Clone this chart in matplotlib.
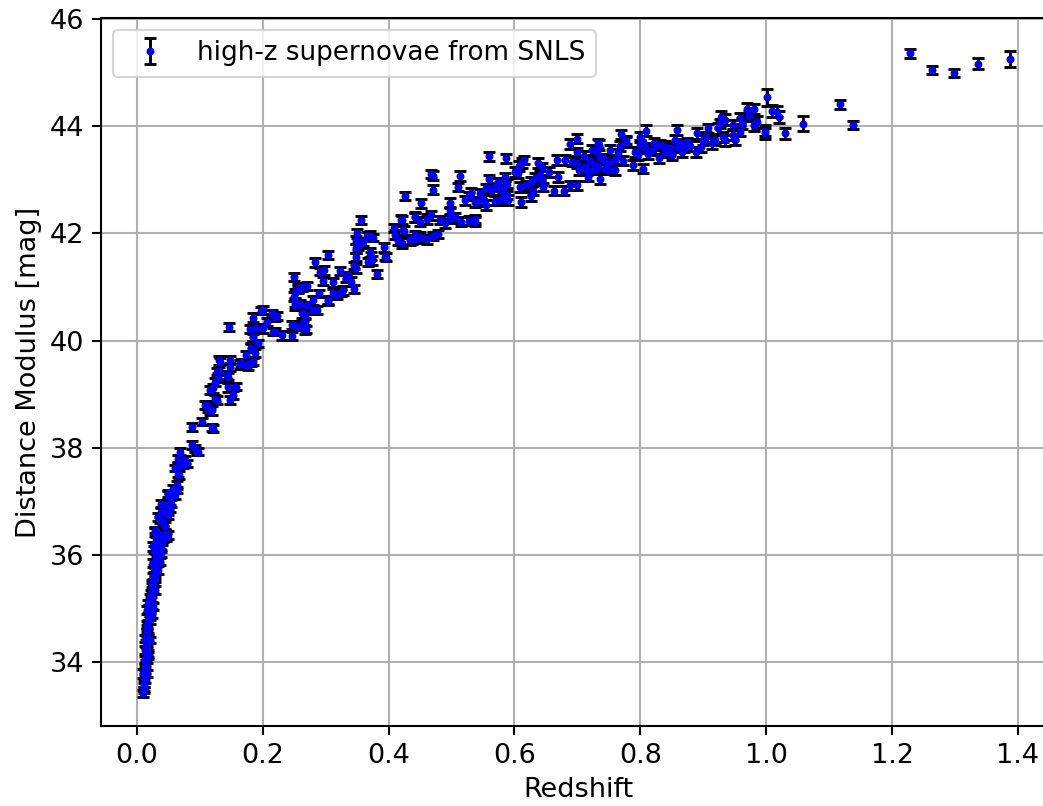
import matplotlib
matplotlib.use("Agg")
import matplotlib.pyplot as plt
import numpy as np

# ---- data (redshift, distance modulus, error) ----
z_low = [0.0095, 0.0116, 0.012, 0.0127, 0.010, 0.0154, 0.0127, 0.0146, 0.0127, 0.0154,
         0.018, 0.018, 0.0127, 0.0165, 0.0154, 0.0146, 0.0207, 0.0127, 0.018, 0.018,
         0.0154, 0.0165, 0.0207, 0.0207, 0.0154, 0.0234, 0.018, 0.026, 0.0207, 0.0234,
         0.026, 0.0286, 0.0234, 0.026, 0.026, 0.0286, 0.031, 0.034, 0.0286, 0.026,
         0.034, 0.036, 0.039, 0.034, 0.026, 0.031, 0.0366, 0.042, 0.047, 0.0366,
         0.050, 0.0286, 0.0286, 0.034, 0.0366, 0.042, 0.050, 0.039, 0.050, 0.052,
         0.047, 0.039, 0.055, 0.050, 0.052, 0.060, 0.050, 0.058, 0.063, 0.063,
         0.067, 0.066, 0.060, 0.066, 0.074, 0.079, 0.066, 0.068, 0.076, 0.087,
         0.092, 0.097, 0.095, 0.087, 0.104, 0.121, 0.120,
         0.030, 0.032, 0.028, 0.033, 0.035, 0.030, 0.031, 0.027, 0.029, 0.024,
         0.022, 0.019, 0.017, 0.016, 0.014, 0.013, 0.011,
         0.044, 0.040, 0.036, 0.045, 0.038]
mu_low = [33.42, 33.48, 33.54, 33.67, 33.79, 33.79, 33.92, 33.92, 34.04, 34.04,
          34.13, 34.16, 34.23, 34.22, 34.32, 34.35, 34.41, 34.44, 34.44, 34.63,
          34.63, 34.70, 34.79, 34.85, 34.97, 34.91, 35.10, 35.04, 35.22, 35.20,
          35.35, 35.35, 35.47, 35.50, 35.60, 35.62, 35.72, 35.72, 35.81, 35.85,
          35.91, 35.88, 36.03, 36.09, 36.16, 36.28, 36.28, 36.31, 36.34, 36.37,
          36.37, 36.43, 36.47, 36.71, 36.65, 36.62, 36.75, 36.81, 36.81, 36.87,
          36.93, 36.96, 36.96, 37.12, 37.09, 37.12, 37.15, 37.24, 37.21, 37.31,
          37.49, 37.52, 37.62, 37.65, 37.68, 37.71, 37.80, 37.93, 37.77, 38.05,
          37.99, 37.93, 37.93, 38.39, 38.49, 38.36, 38.38,
          35.95, 36.05, 36.10, 36.15, 36.22, 36.00, 35.84, 35.75, 35.55, 35.40,
          35.28, 35.00, 34.85, 34.55, 34.10, 33.85, 33.60,
          36.40, 36.25, 36.18, 36.55, 36.12]
err_low = [0.07, 0.06, 0.07, 0.06, 0.08, 0.07, 0.06, 0.07, 0.08, 0.06,
           0.07, 0.06, 0.07, 0.08, 0.06, 0.07, 0.06, 0.07, 0.06, 0.08,
           0.07, 0.06, 0.07, 0.06, 0.07, 0.08, 0.06, 0.07, 0.06, 0.07,
           0.06, 0.08, 0.07, 0.06, 0.07, 0.06, 0.07, 0.08, 0.06, 0.07,
           0.06, 0.07, 0.06, 0.07, 0.08, 0.06, 0.07, 0.06, 0.07, 0.06,
           0.08, 0.07, 0.06, 0.07, 0.06, 0.07, 0.08, 0.06, 0.07, 0.06,
           0.07, 0.06, 0.07, 0.08, 0.06, 0.07, 0.06, 0.07, 0.06, 0.07,
           0.08, 0.07, 0.06, 0.07, 0.06, 0.07, 0.06, 0.07, 0.08, 0.07,
           0.06, 0.07, 0.06, 0.07, 0.07, 0.06, 0.07,
           0.06, 0.07, 0.06, 0.07, 0.06, 0.07, 0.06, 0.07, 0.06, 0.07,
           0.06, 0.07, 0.06, 0.07, 0.06, 0.07, 0.06,
           0.07, 0.06, 0.07, 0.06, 0.07]

z_mid = [0.108, 0.111, 0.113, 0.116, 0.119, 0.124, 0.127, 0.148, 0.153, 0.145,
         0.156, 0.157, 0.121, 0.116, 0.124, 0.129, 0.127, 0.145, 0.143, 0.148,
         0.148, 0.131, 0.132, 0.131, 0.164, 0.166, 0.174, 0.177, 0.185, 0.182,
         0.173, 0.188, 0.182, 0.181, 0.193, 0.185, 0.185, 0.147, 0.180, 0.201,
         0.217, 0.220, 0.230, 0.246, 0.206, 0.219, 0.214, 0.198, 0.185, 0.190,
         0.200, 0.222]
mu_mid = [38.80, 38.80, 38.74, 38.68, 38.70, 38.92, 38.89, 38.89, 38.99, 39.13,
          39.14, 39.14, 39.11, 39.08, 39.23, 39.31, 39.42, 39.33, 39.36, 39.51,
          39.64, 39.63, 39.61, 39.43, 39.56, 39.58, 39.54, 39.54, 39.61, 39.59,
          39.73, 39.77, 39.87, 39.87, 39.95, 40.06, 40.07, 40.25, 40.22, 40.23,
          40.17, 40.17, 40.10, 40.09, 40.35, 40.45, 40.51, 40.56, 40.43, 40.23,
          40.57, 40.46]
err_mid = [0.07, 0.08, 0.07, 0.07, 0.08, 0.07, 0.08, 0.07, 0.07, 0.08,
           0.07, 0.07, 0.08, 0.07, 0.07, 0.08, 0.07, 0.07, 0.08, 0.07,
           0.07, 0.08, 0.07, 0.07, 0.08, 0.07, 0.07, 0.08, 0.07, 0.07,
           0.08, 0.07, 0.07, 0.08, 0.07, 0.07, 0.08, 0.07, 0.07, 0.08,
           0.07, 0.07, 0.08, 0.07, 0.07, 0.08, 0.07, 0.07, 0.08, 0.07,
           0.07, 0.08]

z_int = [0.249, 0.264, 0.262, 0.251, 0.270, 0.280, 0.267, 0.268, 0.249, 0.252,
         0.256, 0.262, 0.270, 0.251, 0.259, 0.264, 0.267, 0.267, 0.246, 0.255,
         0.286, 0.280, 0.290, 0.304, 0.312, 0.318, 0.311, 0.295, 0.291, 0.297,
         0.283, 0.303, 0.250, 0.256, 0.323, 0.333, 0.328, 0.336, 0.341, 0.349,
         0.345, 0.349, 0.348, 0.352, 0.355, 0.350, 0.349, 0.370, 0.372, 0.368,
         0.373, 0.370, 0.381, 0.356, 0.393, 0.395, 0.396, 0.303, 0.325, 0.345,
         0.365, 0.375, 0.360]
mu_int = [40.29, 40.32, 40.51, 40.66, 40.66, 40.57, 40.21, 40.21, 40.82, 40.88,
          40.95, 41.00, 41.02, 40.70, 40.68, 40.51, 40.35, 40.48, 40.29, 40.26,
          40.57, 40.75, 40.88, 40.76, 40.88, 40.85, 41.09, 41.11, 41.29, 41.31,
          41.46, 41.60, 41.19, 40.98, 41.30, 41.17, 40.94, 41.22, 41.10, 41.35,
          41.40, 41.56, 41.72, 41.76, 41.80, 42.00, 41.88, 41.96, 41.58, 41.47,
          41.50, 41.65, 41.24, 42.25, 41.74, 41.57, 41.56, 40.74, 40.90, 40.96,
          41.95, 41.92, 41.84]
err_int = [0.08, 0.07, 0.08, 0.08, 0.07, 0.08, 0.08, 0.07, 0.08, 0.08,
           0.07, 0.08, 0.08, 0.07, 0.08, 0.08, 0.07, 0.08, 0.08, 0.07,
           0.08, 0.08, 0.07, 0.08, 0.08, 0.07, 0.08, 0.08, 0.07, 0.08,
           0.08, 0.07, 0.08, 0.08, 0.07, 0.08, 0.08, 0.07, 0.08, 0.08,
           0.07, 0.08, 0.08, 0.07, 0.08, 0.08, 0.07, 0.08, 0.08, 0.07,
           0.08, 0.08, 0.07, 0.08, 0.08, 0.07, 0.08, 0.08, 0.07, 0.08,
           0.08, 0.07, 0.08]

z_far = [0.408, 0.424, 0.410, 0.415, 0.419, 0.437, 0.442, 0.434, 0.445, 0.426,
         0.451, 0.421, 0.423, 0.421, 0.442, 0.450, 0.461, 0.471, 0.479, 0.442,
         0.450, 0.468, 0.461, 0.481, 0.490, 0.497, 0.500, 0.506, 0.515, 0.527,
         0.537, 0.498, 0.498, 0.468, 0.470, 0.470, 0.511, 0.513, 0.521, 0.531,
         0.537, 0.542, 0.537, 0.551, 0.555, 0.558, 0.564, 0.569, 0.574, 0.580,
         0.585, 0.588, 0.555, 0.560, 0.569, 0.577, 0.582, 0.588, 0.590, 0.585,
         0.560, 0.587, 0.545, 0.528]
mu_far = [42.10, 42.05, 41.98, 41.86, 42.26, 41.89, 42.30, 41.88, 41.90, 42.70,
          42.56, 42.25, 42.06, 41.82, 41.97, 41.94, 41.89, 41.95, 41.99, 42.31,
          42.22, 42.34, 42.27, 42.25, 42.19, 42.28, 42.28, 42.31, 42.22, 42.24,
          42.22, 42.57, 42.42, 43.11, 43.08, 42.82, 42.87, 43.07, 42.62, 42.76,
          42.59, 42.60, 42.27, 42.62, 42.84, 42.85, 42.81, 42.87, 42.96, 42.81,
          42.90, 42.93, 42.53, 43.01, 42.61, 42.62, 42.67, 42.72, 42.62, 43.05,
          43.44, 43.40, 42.75, 42.70]
err_far = [0.08, 0.09, 0.08, 0.08, 0.09, 0.08, 0.08, 0.09, 0.08, 0.08,
           0.09, 0.08, 0.08, 0.09, 0.08, 0.08, 0.09, 0.08, 0.08, 0.09,
           0.08, 0.08, 0.09, 0.08, 0.08, 0.09, 0.08, 0.08, 0.09, 0.08,
           0.08, 0.09, 0.08, 0.08, 0.09, 0.08, 0.08, 0.09, 0.08, 0.08,
           0.09, 0.08, 0.08, 0.09, 0.08, 0.08, 0.09, 0.08, 0.08, 0.09,
           0.08, 0.08, 0.09, 0.08, 0.08, 0.09, 0.08, 0.08, 0.09, 0.08,
           0.08, 0.09, 0.08, 0.08]

z_deep = [0.601, 0.606, 0.612, 0.608, 0.615, 0.609, 0.610, 0.619, 0.627, 0.629,
          0.626, 0.633, 0.638, 0.643, 0.641, 0.643, 0.646, 0.663, 0.679, 0.689,
          0.667, 0.680, 0.691, 0.699, 0.688, 0.699, 0.702, 0.699, 0.699, 0.717,
          0.723, 0.728, 0.715, 0.712, 0.733, 0.735, 0.731, 0.733, 0.736, 0.728,
          0.725, 0.736, 0.744, 0.749, 0.741, 0.752, 0.760, 0.765, 0.768, 0.770,
          0.777, 0.760, 0.773, 0.789, 0.752, 0.778, 0.670, 0.655, 0.720, 0.745,
          0.710]
mu_deep = [43.15, 43.12, 43.32, 43.26, 43.37, 42.87, 42.59, 42.90, 42.96, 42.80,
           42.69, 43.03, 43.31, 43.24, 43.09, 43.00, 42.87, 42.80, 42.80, 42.90,
           43.37, 43.37, 43.34, 43.77, 43.67, 43.52, 43.18, 43.31, 42.90, 43.06,
           43.56, 43.18, 43.18, 43.24, 43.24, 43.65, 43.52, 43.68, 43.40, 43.28,
           43.18, 43.01, 43.21, 43.18, 43.40, 43.34, 43.37, 43.49, 43.63, 43.85,
           43.71, 43.18, 43.36, 43.28, 43.56, 43.74, 43.05, 43.15, 43.35, 43.30,
           43.45]
err_deep = [0.09, 0.08, 0.09, 0.09, 0.08, 0.09, 0.09, 0.08, 0.09, 0.09,
            0.08, 0.09, 0.09, 0.08, 0.09, 0.09, 0.08, 0.09, 0.09, 0.08,
            0.09, 0.09, 0.08, 0.09, 0.09, 0.08, 0.09, 0.09, 0.08, 0.09,
            0.09, 0.08, 0.09, 0.09, 0.08, 0.09, 0.09, 0.08, 0.09, 0.09,
            0.08, 0.09, 0.09, 0.08, 0.09, 0.09, 0.08, 0.09, 0.09, 0.08,
            0.09, 0.09, 0.08, 0.09, 0.09, 0.08, 0.09, 0.09, 0.08, 0.09,
            0.09]

z_hi = [0.804, 0.792, 0.800, 0.809, 0.800, 0.805, 0.808, 0.813, 0.797, 0.821,
        0.829, 0.831, 0.839, 0.847, 0.850, 0.855, 0.858, 0.859, 0.863, 0.869,
        0.866, 0.879, 0.889, 0.890, 0.900, 0.897, 0.908, 0.914, 0.919, 0.924,
        0.929, 0.927, 0.935, 0.932, 0.935, 0.948, 0.948, 0.950, 0.959, 0.959,
        0.961, 0.969, 0.973, 0.980, 0.981, 0.985, 0.820, 0.840, 0.875, 0.905]
mu_hi = [43.21, 43.52, 43.80, 43.92, 43.65, 43.71, 43.59, 43.49, 43.46, 43.68,
         43.40, 43.65, 43.52, 43.59, 43.46, 43.74, 43.93, 43.62, 43.68, 43.62,
         43.52, 43.63, 43.52, 43.87, 43.74, 43.62, 43.96, 43.68, 43.74, 43.96,
         44.18, 44.05, 44.12, 43.80, 43.74, 44.02, 43.84, 43.74, 44.15, 43.90,
         44.05, 44.32, 44.19, 44.02, 44.32, 44.08, 43.55, 43.62, 43.70, 43.80]
err_hi = [0.09, 0.10, 0.09, 0.10, 0.09, 0.10, 0.09, 0.10, 0.09, 0.10,
          0.09, 0.10, 0.09, 0.10, 0.09, 0.10, 0.09, 0.10, 0.09, 0.10,
          0.09, 0.10, 0.09, 0.10, 0.09, 0.10, 0.09, 0.10, 0.09, 0.10,
          0.10, 0.09, 0.10, 0.09, 0.10, 0.09, 0.10, 0.09, 0.10, 0.09,
          0.10, 0.11, 0.10, 0.11, 0.10, 0.11, 0.09, 0.10, 0.09, 0.10]

z_top = [1.001, 0.998, 0.998, 1.009, 1.018, 1.020, 1.030, 1.058, 1.118, 1.138,
         1.228, 1.263, 1.298, 1.337, 1.388]
mu_top = [44.54, 43.87, 43.92, 44.29, 44.27, 44.17, 43.87, 44.05, 44.41, 44.02,
          45.36, 45.05, 44.99, 45.17, 45.25]
err_top = [0.16, 0.10, 0.10, 0.11, 0.10, 0.11, 0.10, 0.14, 0.08, 0.08,
           0.08, 0.08, 0.08, 0.11, 0.15]

legend_label = "high-z supernovae from SNLS"
x_label = "Redshift"
y_label = "Distance Modulus [mag]"

redshift = np.concatenate([z_low, z_mid, z_int, z_far, z_deep, z_hi, z_top])
dist_mod = np.concatenate([mu_low, mu_mid, mu_int, mu_far, mu_deep, mu_hi, mu_top])
dist_err = np.concatenate([err_low, err_mid, err_int, err_far, err_deep, err_hi, err_top])

W, H, DPI = 1043, 806, 150
FS = 13
fig = plt.figure(figsize=(W / DPI, H / DPI), dpi=DPI)
ax = fig.add_axes([101 / W, (H - 726) / H, (1055 - 101) / W, (726 - 18) / H])

ax.errorbar(redshift, dist_mod, yerr=dist_err, fmt='o', color='blue',
            markersize=2.8, ecolor='black', elinewidth=1.4, capsize=3.0,
            capthick=1.4, label=legend_label)

ax.set_xlim(-0.057, 1.459)
ax.set_ylim(32.81, 46.02)
ax.set_xticks([0.0, 0.2, 0.4, 0.6, 0.8, 1.0, 1.2, 1.4])
ax.set_yticks([34, 36, 38, 40, 42, 44, 46])
ax.tick_params(labelsize=FS, length=4.5, width=1.0)
ax.set_xlabel(x_label, fontsize=FS)
ax.set_ylabel(y_label, fontsize=FS)
ax.grid(True, color='#b0b0b0', linewidth=1.0)
ax.set_axisbelow(True)
for s in ax.spines.values():
    s.set_linewidth(1.0)
ax.legend(loc='upper left', fontsize=12.6, borderaxespad=0.45)

fig.savefig("out.png", dpi=DPI)
